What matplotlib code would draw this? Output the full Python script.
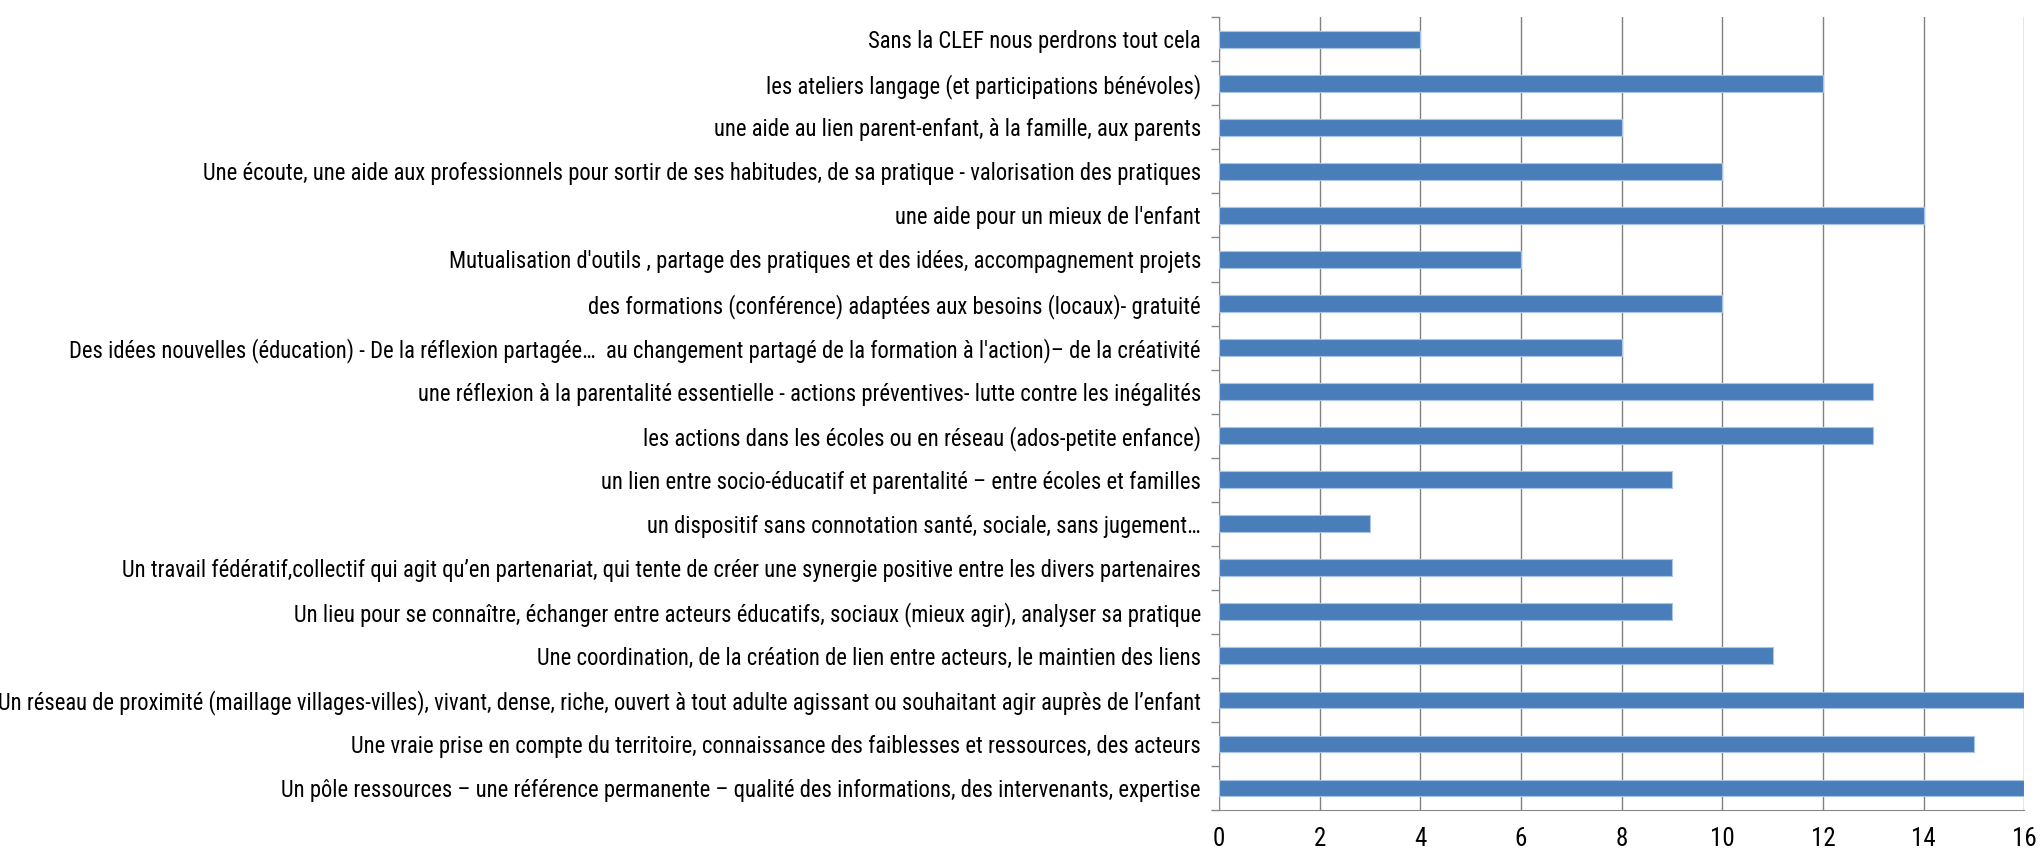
import matplotlib.pyplot as plt
import matplotlib.font_manager as fm
import numpy as np

# ---------------------------
# Data (top to bottom as shown)
# ---------------------------
labels = [
    "Sans la CLEF nous perdrons tout cela",
    "les ateliers langage (et participations bénévoles)",
    "une aide au lien parent-enfant, à la famille, aux parents",
    "Une écoute, une aide aux professionnels pour sortir de ses habitudes, de sa pratique - valorisation des pratiques",
    "une aide pour un mieux de l'enfant",
    "Mutualisation d'outils , partage des pratiques et des idées, accompagnement projets",
    "des formations (conférence) adaptées aux besoins (locaux)- gratuité",
    "Des idées nouvelles (éducation) - De la réflexion partagée…  au changement partagé de la formation à l'action)– de la créativité",
    "une réflexion à la parentalité essentielle - actions préventives- lutte contre les inégalités",
    "les actions dans les écoles ou en réseau (ados-petite enfance)",
    "un lien entre socio-éducatif et parentalité – entre écoles et familles",
    "un dispositif sans connotation santé, sociale, sans jugement…",
    "Un travail fédératif,collectif qui agit qu’en partenariat, qui tente de créer une synergie positive entre les divers partenaires",
    "Un lieu pour se connaître, échanger entre acteurs éducatifs, sociaux (mieux agir), analyser sa pratique",
    "Une coordination, de la création de lien entre acteurs, le maintien des liens",
    "Un réseau de proximité (maillage villages-villes), vivant, dense, riche, ouvert à tout adulte agissant ou souhaitant agir auprès de l’enfant",
    "Une vraie prise en compte du territoire, connaissance des faiblesses et ressources, des acteurs",
    "Un pôle ressources – une référence permanente – qualité des informations, des intervenants, expertise",
]
counts = [4, 12, 8, 10, 14, 6, 10, 8, 13, 13, 9, 3, 9, 9, 11, 16, 15, 16]
x_ticks = [0, 2, 4, 6, 8, 10, 12, 14, 16]

# font: narrow sans if available
names = {f.name for f in fm.fontManager.ttflist}
fam = "Liberation Sans"
for cand in ["Liberation Sans Narrow", "Roboto Condensed", "Open Sans Condensed"]:
    if cand in names:
        fam = cand
        break
plt.rcParams["font.family"] = [fam, "DejaVu Sans"]

fig = plt.figure(figsize=(20.44, 8.63), dpi=100)
ax = fig.add_axes([0.5964, 0.0614, 0.3940, 0.9186])

y = np.arange(len(labels))
ax.barh(y, counts, height=0.38, color="#4a7ebb", edgecolor="#a8c4e6",
        linewidth=0.8, zorder=3)

ax.set_xlim(0, 16)
ax.set_ylim(len(labels) - 0.5, -0.5)
ax.set_xticks(x_ticks)
ax.set_xticklabels([str(t) for t in x_ticks], fontsize=18)
ax.set_yticks(y)
ax.set_yticklabels(labels, fontsize=16)
ax.tick_params(axis="y", length=0, pad=13)
ax.tick_params(axis="x", length=0, pad=12)

# Excel style ticks between categories
ax.set_yticks(np.arange(-0.5, len(labels), 1), minor=True)
ax.tick_params(axis="y", which="minor", length=6, color="#888888", width=1)

ax.grid(axis="x", color="#808080", linewidth=1, zorder=0)
for s in ["top", "right"]:
    ax.spines[s].set_visible(False)
ax.spines["left"].set_color("#888888")
ax.spines["bottom"].set_color("#888888")

# size the category labels so the longest one spans the space left of the axes
fig.canvas.draw()
r = fig.canvas.get_renderer()
widest = max(t.get_window_extent(r).width for t in ax.get_yticklabels())
room = 1219 - 13 - 2
fs = 16 * room / widest
for t in ax.get_yticklabels():
    t.set_fontsize(fs)

fig.savefig("out.png", dpi=100)
